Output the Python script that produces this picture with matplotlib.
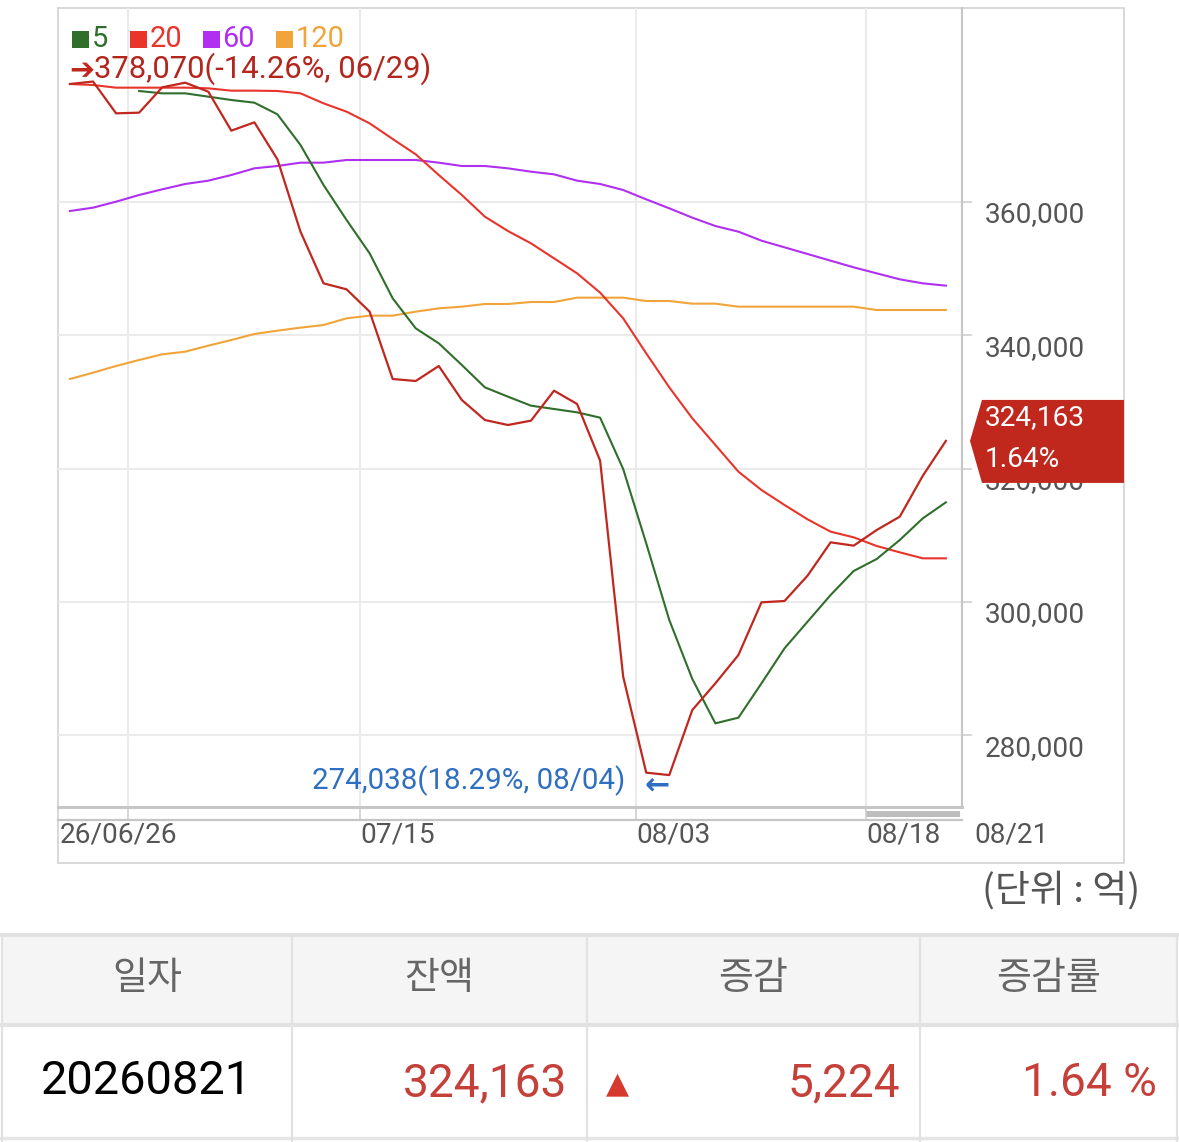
import matplotlib
matplotlib.use('Agg')
import matplotlib.pyplot as plt
from matplotlib.patches import Rectangle, Polygon
import matplotlib.transforms as mtransforms
import numpy as np

# ---------------- data ----------------
price = [377700, 378070, 373300, 373400, 377200, 377900, 376550, 370700, 371950, 366400,
         355550, 347800, 346900, 343550, 333450, 333150, 335400, 330300, 327300, 326550,
         327200, 331700, 329700, 321200, 288800, 274400, 274038, 283800, 287800, 292050,
         299950, 300150, 303950, 308950, 308450, 310800, 312800, 318939, 324163]
ma5 = [np.nan, np.nan, np.nan, 376650, 376300, 376300, 375800, 375300, 374900, 373150,
       368550, 362550, 357300, 352300, 345550, 341050, 338800, 335550, 332200, 330800,
       329450, 328950, 328450, 327650, 319950, 308800, 297300, 288450, 281800, 282650,
       287800, 293050, 297050, 301050, 304650, 306450, 309300, 312550, 314950]
ma20 = [377700, 377550, 377150, 377150, 377150, 377150, 377050, 376700, 376700, 376650,
        376300, 374800, 373550, 371800, 369450, 367150, 364050, 361050, 357800, 355650,
        353800, 351550, 349300, 346400, 342550, 337300, 332200, 327550, 323550, 319550,
        316800, 314550, 312400, 310550, 309700, 308400, 307450, 306550, 306550]
ma60 = [358650, 359150, 360050, 361050, 361900, 362700, 363200, 364050, 365050, 365400,
        365900, 365900, 366300, 366300, 366300, 366300, 365900, 365400, 365400, 365050,
        364550, 364150, 363200, 362700, 361800, 360400, 359050, 357650, 356400, 355550,
        354200, 353200, 352200, 351200, 350200, 349300, 348400, 347800, 347450]
ma120 = [333450, 334400, 335400, 336300, 337150, 337550, 338450, 339300, 340200, 340700,
         341150, 341550, 342550, 342950, 342950, 343550, 344050, 344300, 344700, 344700,
         345000, 345000, 345650, 345650, 345650, 345150, 345150, 344750, 344750, 344300,
         344300, 344300, 344300, 344300, 344300, 343800, 343800, 343800, 343800]
x_labels = ["26/06/26", "07/15", "08/03", "08/18"]
last_label = "08/21"
y_ticks = [280000, 300000, 320000, 340000, 360000]
legend_labels = ["5", "20", "60", "120"]
max_date = "06/29"
min_date = "08/04"
last_date = "20260821"
headers = ["일자", "잔액", "증감", "증감률"]
unit_text = "(단위 : 억)"

# ---------------- style ----------------
C_PRICE = '#c0281f'
C5, C20, C60, C120 = '#2f6e2b', '#e8342a', '#b02ff0', '#f0a43a'
C_GRID = '#ebebeb'
C_BORDER = '#cfcfcf'
C_TXT = '#555555'
C_BLUE = '#2f6fc0'
C_TRED = '#c6403a'
NUMF = ['Roboto', 'DejaVu Sans']
KRF = ['Noto Sans CJK KR', 'DejaVu Sans']

W, H = 1179, 1142
fig = plt.figure(figsize=(W / 100, H / 100), dpi=100)


def P(px):
    return px * 0.72


ov = fig.add_axes([0, 0, 1, 1])
ov.set_xlim(0, W)
ov.set_ylim(H, 0)
ov.axis('off')

# plot area in pixels: x 58-962, y 8-807
ax = fig.add_axes([58 / W, 1 - 807 / H, (962 - 58) / W, (807 - 8) / H])
ax.set_facecolor('none')
x = np.arange(len(price))
ax.set_xlim(-0.52, len(price) - 1 + 0.70)
ax.set_ylim(269250, 389100)

ax.plot(x, ma120, color=C120, lw=1.5, zorder=3)
ax.plot(x, ma60, color=C60, lw=1.5, zorder=3)
ax.plot(x, ma20, color=C20, lw=1.5, zorder=4)
ax.plot(x, ma5, color=C5, lw=1.5, zorder=5)
ax.plot(x, price, color=C_PRICE, lw=1.6, zorder=6)

xgrid = [2.5, 12.58, 24.56, 34.53]
ax.set_xticks(xgrid)
ax.set_yticks(y_ticks)
ax.grid(True, color=C_GRID, lw=1.5, zorder=0)
ax.tick_params(labelbottom=False, labelleft=False, left=False, right=True, bottom=True,
               direction='out', width=1.2, color=C_BORDER)
ax.tick_params(axis='x', length=P(12))
ax.tick_params(axis='y', length=P(10))
for s in ['left', 'top']:
    ax.spines[s].set_visible(False)
ax.spines['right'].set_color('#c6c6c6')
ax.spines['right'].set_linewidth(1.5)
ax.spines['bottom'].set_color('#c6c6c6')
ax.spines['bottom'].set_linewidth(2.2)

# outer frame and lower axis strip
ov.add_patch(Rectangle((58, 8), 1124 - 58, 863 - 8, fill=False, ec='#d2d2d2', lw=1.2))
ov.plot([58, 962], [819.5, 819.5], color='#c6c6c6', lw=1.6)
ov.add_patch(Rectangle((866, 811), 94, 6, color='#bdbdbd', lw=0))

# y labels (right)
tr_y = mtransforms.blended_transform_factory(ov.transData, ax.transData)
off_y = mtransforms.ScaledTranslation(0, -13 / 100, fig.dpi_scale_trans)
for v in y_ticks:
    ov.text(985, v, f"{v:,}", transform=tr_y + off_y, ha='left', va='center',
            fontsize=P(28), color=C_TXT, family=NUMF, clip_on=False)

# x labels
tr_x = mtransforms.blended_transform_factory(ax.transData, ov.transData)
ov.text(xgrid[0] - 0.38, 835, x_labels[0], transform=tr_x, ha='center', va='center',
        fontsize=P(28), color=C_TXT, family=NUMF)
for gx, lab in zip(xgrid[1:], x_labels[1:]):
    ov.text(gx + 0.02, 835, lab, transform=tr_x, ha='left', va='center',
            fontsize=P(28), color=C_TXT, family=NUMF)
ov.text(x[-1] + 1.25, 835, last_label, transform=tr_x, ha='left', va='center',
        fontsize=P(28), color=C_TXT, family=NUMF)

# legend
lx = 72
for lab, col in zip(legend_labels, [C5, C20, C60, C120]):
    ov.add_patch(Rectangle((lx, 31), 17, 17, color=col, lw=0))
    ov.text(lx + 20, 39, lab, ha='left', va='center', fontsize=P(29), color=col, family=NUMF)
    lx += 21 + 15.5 * len(lab) + 21

# max / min annotations
imax = int(np.argmax(price))
imin = int(np.argmin(price))
last = price[-1]
pmax, pmin = price[imax], price[imin]
ax.annotate(f"{pmax:,}({(last - pmax) / pmax * 100:.2f}%, {max_date})", xy=(imax, pmax),
            xytext=(1, 13), textcoords='offset pixels', ha='left', va='center',
            fontsize=P(31), color='#b3261e', family=NUMF, annotation_clip=False, zorder=8)
ax.annotate("➔", xy=(imax, pmax), xytext=(1, 11), textcoords='offset pixels', ha='right',
            va='center', fontsize=P(30), color='#c0281f', family=['DejaVu Sans'],
            fontweight='bold', annotation_clip=False, zorder=8)
ax.annotate(f"{pmin:,}({(last - pmin) / pmin * 100:.2f}%, {min_date})", xy=(imin, pmin),
            xytext=(-44, -6), textcoords='offset pixels', ha='right', va='center',
            fontsize=P(29.5), color=C_BLUE, family=NUMF, annotation_clip=False, zorder=8)
ax.annotate("🡐" if False else "←", xy=(imin, pmin), xytext=(0, -10), textcoords='offset pixels',
            ha='right', va='center', fontsize=P(30), color=C_BLUE, family=['DejaVu Sans'],
            fontweight='bold', annotation_clip=False, zorder=8)

# last value badge
fig.canvas.draw()
y_last = H - ax.transData.transform((0, last))[1]
diff = price[-1] - price[-2]
pct = diff / price[-2] * 100
ov.add_patch(Polygon([(970, y_last), (982, y_last - 41), (1124, y_last - 41),
                      (1124, y_last + 42), (982, y_last + 42)], closed=True,
                     color='#c0281e', lw=0, zorder=5))
ov.text(985, y_last - 23, f"{last:,}", ha='left', va='center', fontsize=P(28),
        color='white', family=NUMF, zorder=6)
ov.text(985, y_last + 19, f"{pct:.2f}%", ha='left', va='center', fontsize=P(28),
        color='white', family=NUMF, zorder=6)

# unit text
ov.text(1140, 891, unit_text, ha='right', va='center', fontsize=P(38), color=C_TXT, family=KRF)

# ---------------- table ----------------
cols = [2, 292, 587, 920, 1177]
ov.add_patch(Rectangle((2, 936), 1175, 88, color='#f5f5f5', lw=0))
ov.plot([0, 1179], [935, 935], color='#e2e2e2', lw=3)
ov.plot([0, 1179], [1025, 1025], color='#e2e2e2', lw=3)
ov.plot([0, 1179], [1138, 1138], color='#e6e6e6', lw=2.5)
for cx in cols:
    ov.plot([cx, cx], [935, 1142], color='#e2e2e2', lw=1.6)
for i, h in enumerate(headers):
    ov.text((cols[i] + cols[i + 1]) / 2, 978, h, ha='center', va='center', fontsize=P(38),
            color='#666666', family=KRF)
ov.text(146, 1081, last_date, ha='center', va='center', fontsize=P(47), color='black', family=NUMF)
ov.text(567, 1083, f"{last:,}", ha='right', va='center', fontsize=P(46), color=C_TRED, family=NUMF)
ov.text(617, 1084, "▲", ha='center', va='center', fontsize=P(30), color='#d63a2f',
        family=['DejaVu Sans'])
ov.text(900, 1083, f"{diff:,}", ha='right', va='center', fontsize=P(46), color=C_TRED, family=NUMF)
ov.text(1157, 1083, f"{pct:.2f} %", ha='right', va='center', fontsize=P(46), color=C_TRED,
        family=NUMF)

fig.savefig('out.png', dpi=100)
